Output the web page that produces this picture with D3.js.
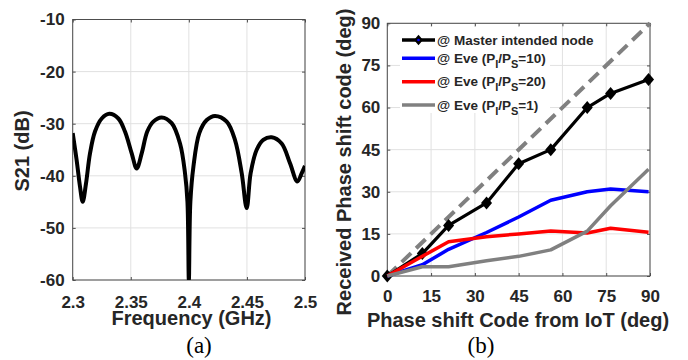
<!DOCTYPE html>
<html>
<head>
<meta charset="utf-8">
<script src="https://cdn.jsdelivr.net/npm/d3@7"></script>
<style>
body { margin: 0; background: #fff; }
text { font-family: "Liberation Sans", Arial, sans-serif; font-weight: bold; fill: #262626; }
text.caption { font-family: "Liberation Serif", "Times New Roman", serif; font-weight: normal; fill: #000; }
.grid line { stroke: #e1e1e1; stroke-width: 1; }
</style>
</head>
<body>
<script>
// (a) S21 of the antenna
const freqGHz = [2.300, 2.3034, 2.3063, 2.3086, 2.3115, 2.3149, 2.3192, 2.325, 2.3315, 2.3393,
  2.345, 2.3508, 2.3551, 2.3594, 2.3642, 2.3694, 2.3766, 2.3852, 2.3924, 2.3967,
  2.3988, 2.4000, 2.4013, 2.4039, 2.409, 2.4154, 2.4225, 2.4326, 2.4397, 2.4455,
  2.4498, 2.4532, 2.4584, 2.4641, 2.4713, 2.4799, 2.4871, 2.4934, 2.4972, 2.500];
const s21dB = [-31.8, -37.0, -42.1, -45.0, -41.4, -35.7, -31.5, -29.0, -28.1, -29.0,
  -31.5, -35.7, -38.6, -35.7, -31.5, -29.6, -28.8, -29.9, -33.8, -39.5,
  -45.0, -60.0, -45.0, -38.3, -31.8, -29.3, -28.5, -29.6, -33.1, -39.5,
  -46.2, -39.5, -35.0, -33.1, -32.6, -33.8, -37.6, -41.1, -39.5, -38.1];
const freqTicks = [2.3, 2.35, 2.4, 2.45, 2.5];
const s21Ticks = [-10, -20, -30, -40, -50, -60];

// (b) received phase shift code
const codeDeg = [0, 12, 21, 34, 45, 56, 68.5, 76.5, 89.5];
const masterNode = [0, 8, 18, 26, 40, 45, 60, 65, 70];
const eveRatio10 = [0, 4, 9.5, 15.5, 21, 27, 30, 31, 30];
const eveRatio20 = [0, 7, 12.2, 14, 15, 16, 15.3, 17, 15.6];
const eveRatio1 = [0, 3.3, 3.3, 5.4, 7, 9.3, 16, 25, 38];
const idealX = [0, 90];
const idealY = [0, 90];
const codeTicks = [0, 15, 30, 45, 60, 75, 90];
// "_" marks a subscript piece
const legendLabels = [
  ["@ Master intended node"],
  ["@ Eve (P", "_I", "/P", "_S", "=10)"],
  ["@ Eve (P", "_I", "/P", "_S", "=20)"],
  ["@ Eve (P", "_I", "/P", "_S", "=1)"]
];
const seriesColors = ["#000000", "#0000ff", "#ff0000", "#808080"];

const svg = d3.select("body").append("svg")
  .attr("width", 688).attr("height", 360);
svg.append("rect").attr("width", 688).attr("height", 360).attr("fill", "#fff");

const xa = d3.scaleLinear([2.3, 2.5], [72.7, 305]);
const ya = d3.scaleLinear([-60, -10], [280, 19.5]);
const xb = d3.scaleLinear([0, 90], [387.3, 650]);
const yb = d3.scaleLinear([0, 90], [276, 23.3]);

const diamond = {
  draw(ctx, size) {
    const h = Math.sqrt(size) / 2, w = h * 0.85;
    ctx.moveTo(0, -h); ctx.lineTo(w, 0); ctx.lineTo(0, h); ctx.lineTo(-w, 0); ctx.closePath();
  }
};

function frame(x, y, xt, yt, padBottom, padLeft) {
  const [l, r] = x.range(), [b, t] = y.range();
  const g = svg.append("g");
  const grid = g.append("g").attr("class", "grid");
  grid.selectAll(".gx").data(xt).join("line").attr("class", "gx")
    .attr("x1", x).attr("x2", x).attr("y1", t).attr("y2", b);
  grid.selectAll(".gy").data(yt).join("line").attr("class", "gy")
    .attr("y1", y).attr("y2", y).attr("x1", l).attr("x2", r);
  g.append("rect").attr("x", l).attr("y", t).attr("width", r - l).attr("height", b - t)
    .attr("fill", "none").attr("stroke", "#4d4d4d").attr("stroke-width", 1);
  const axes = [
    [d3.axisBottom(x).tickValues(xt).tickFormat(String).tickPadding(padBottom), `translate(0,${b})`],
    [d3.axisTop(x).tickValues(xt).tickFormat(""), `translate(0,${t})`],
    [d3.axisLeft(y).tickValues(yt).tickFormat(String).tickPadding(padLeft), `translate(${l},0)`],
    [d3.axisRight(y).tickValues(yt).tickFormat(""), `translate(${r},0)`]
  ];
  axes.forEach(([ax, tr]) => {
    const a = g.append("g").attr("transform", tr)
      .call(ax.tickSizeInner(-3).tickSizeOuter(0));
    a.attr("font-size", 17).attr("color", "#4d4d4d");
    a.select(".domain").remove();
  });
  return g;
}

// ---- panel (a)
frame(xa, ya, freqTicks, s21Ticks, 16, 8);
svg.append("clipPath").attr("id", "clipA").append("rect")
  .attr("x", 72.7).attr("y", 19.5).attr("width", 305 - 72.7).attr("height", 280 - 19.5);
svg.append("path")
  .attr("clip-path", "url(#clipA)")
  .attr("d", d3.line().x((d, i) => xa(freqGHz[i])).y(d => ya(d))
    .curve(d3.curveCatmullRom.alpha(0.5))(s21dB))
  .attr("fill", "none").attr("stroke", "#000").attr("stroke-width", 4)
  .attr("stroke-linejoin", "round");

svg.append("text").attr("transform", "translate(29,151) rotate(-90)")
  .attr("text-anchor", "middle").attr("font-size", 20).text("S21 (dB)");
svg.append("text").attr("x", 191.5).attr("y", 325)
  .attr("text-anchor", "middle").attr("font-size", 20).text("Frequency (GHz)");
svg.append("text").attr("class", "caption").attr("x", 199).attr("y", 353)
  .attr("text-anchor", "middle").attr("font-size", 23).text("(a)");

// ---- panel (b)
frame(xb, yb, codeTicks, codeTicks, 14, 7);
const lineB = d3.line().x(d => xb(d[0])).y(d => yb(d[1]));

svg.append("path")
  .attr("d", lineB(d3.zip(idealX, idealY)))
  .attr("fill", "none").attr("stroke", "#808080").attr("stroke-width", 4)
  .attr("stroke-dasharray", "13,7");

const series = [masterNode, eveRatio10, eveRatio20, eveRatio1];
series.forEach((vals, k) => {
  svg.append("path")
    .attr("d", lineB(d3.zip(codeDeg, vals)))
    .attr("fill", "none").attr("stroke", seriesColors[k])
    .attr("stroke-width", k === 0 ? 3.2 : 3.5).attr("stroke-linejoin", "round");
  if (k === 0) {
    svg.append("g").selectAll("path").data(d3.zip(codeDeg, vals)).join("path")
      .attr("transform", d => `translate(${xb(d[0])},${yb(d[1])})`)
      .attr("d", d3.symbol(diamond, 169))
      .attr("fill", "#000");
  }
});

// legend (box narrower than its text, as in the source figure)
const leg = svg.append("g");
leg.append("rect").attr("x", 400).attr("y", 27).attr("width", 150).attr("height", 86).attr("fill", "#fff");
const rowY = [40, 58.3, 81.7, 105];
legendLabels.forEach((parts, k) => {
  const y = rowY[k];
  leg.append("line").attr("x1", 402).attr("x2", 435).attr("y1", y).attr("y2", y)
    .attr("stroke", seriesColors[k]).attr("stroke-width", 3.5);
  if (k === 0) {
    leg.append("path").attr("transform", `translate(418.5,${y})`)
      .attr("d", d3.symbol(diamond, 110)).attr("fill", "#000");
    leg.append("circle").attr("cx", 418.5).attr("cy", y).attr("r", 1.3).attr("fill", "#0000ff");
  }
  const t = leg.append("text").attr("x", 437).attr("y", y).attr("dy", "0.35em").attr("font-size", 13.5);
  let shifted = false;
  parts.forEach(p => {
    const sub = p.startsWith("_");
    const ts = t.append("tspan").text(sub ? p.slice(1) : p);
    if (sub) { ts.attr("font-size", 11).attr("dy", 5); shifted = true; }
    else if (shifted) { ts.attr("dy", -5); shifted = false; }
  });
});

svg.append("text").attr("transform", "translate(351,162) rotate(-90)")
  .attr("text-anchor", "middle").attr("font-size", 20).text("Received Phase shift code (deg)");
svg.append("text").attr("x", 518).attr("y", 327)
  .attr("text-anchor", "middle").attr("font-size", 20).text("Phase shift Code from IoT (deg)");
svg.append("text").attr("class", "caption").attr("x", 481).attr("y", 353)
  .attr("text-anchor", "middle").attr("font-size", 23).text("(b)");
</script>
</body>
</html>
